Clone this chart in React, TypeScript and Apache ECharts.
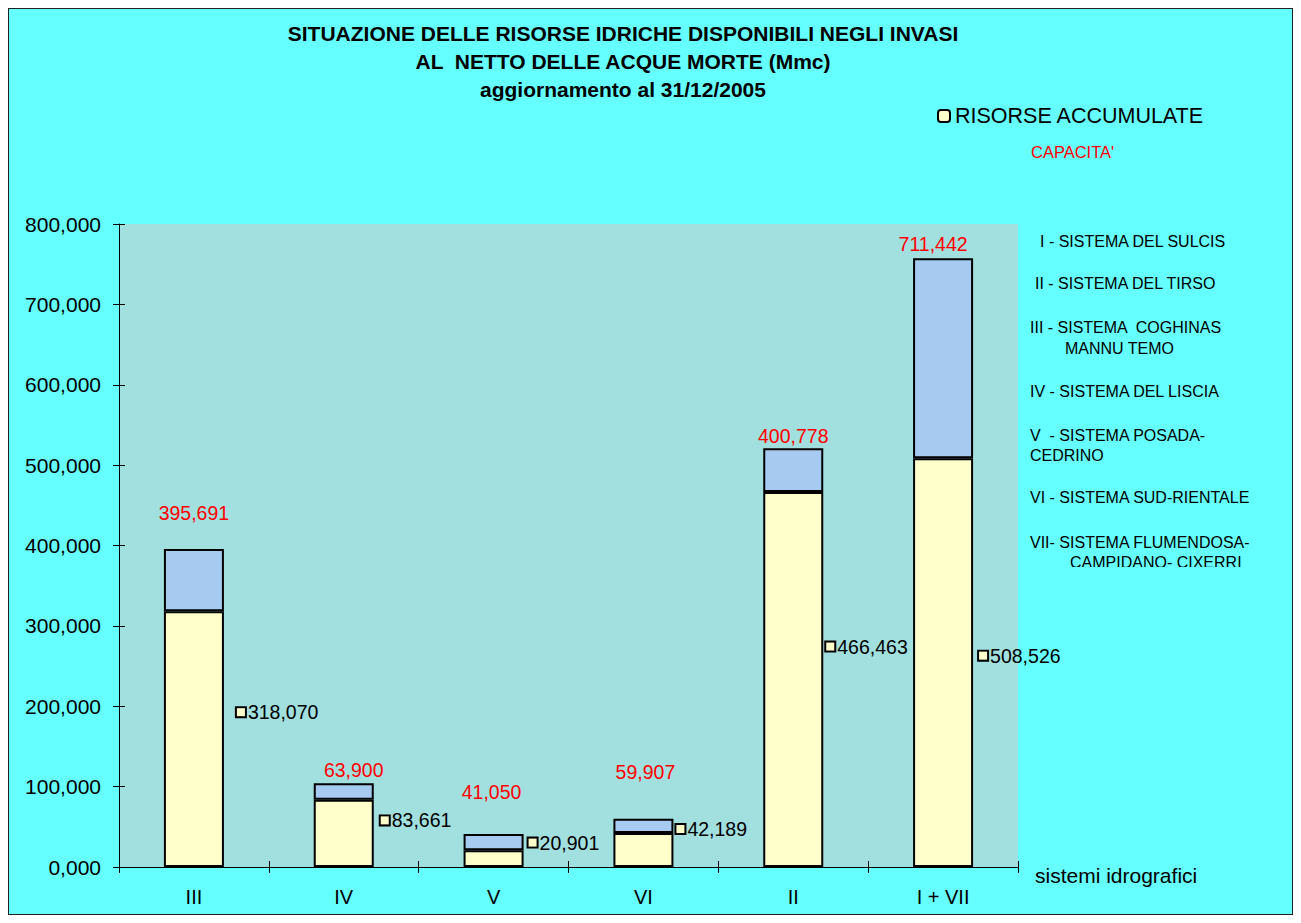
import React, { useEffect, useRef } from "react";
import * as echarts from "echarts";

// ---- data ----
const categories = ["III", "IV", "V", "VI", "II", "I + VII"];
const risorseAccumulate = [318070, 83661, 20901, 42189, 466463, 508526];
// blue stacked segment (bar top minus accumulated resources)
const capacitaResidua = [77621, 20539, 20149, 17718, 54537, 248974];
// red labels printed above the bars
const capacitaLabels = [395691, 63900, 41050, 59907, 400778, 711442];
const yTicks = [0, 100000, 200000, 300000, 400000, 500000, 600000, 700000, 800000];
const sistemiLegenda = [
  "I - SISTEMA DEL SULCIS",
  "II - SISTEMA DEL TIRSO",
  "III - SISTEMA  COGHINAS",
  "MANNU TEMO",
  "IV - SISTEMA DEL LISCIA",
  "V  - SISTEMA POSADA-",
  "CEDRINO",
  "VI - SISTEMA SUD-RIENTALE",
  "VII- SISTEMA FLUMENDOSA-",
  "CAMPIDANO- CIXERRI",
];

const FONT = "Arial, 'Liberation Sans', sans-serif";
const BG = "#66FFFF";

const fmt = (v: number) => {
  const k = Math.floor(v / 1000);
  const r = Math.round(v % 1000);
  return `${k},${String(r).padStart(3, "0")}`;
};

export default function App() {
  const ref = useRef<HTMLDivElement>(null);

  useEffect(() => {
    if (!ref.current) return;
    const chart = echarts.init(ref.current, undefined, { renderer: "svg" });

    const redNudge = [
      [0, -21],
      [10, 2],
      [-2, -27],
      [2, -32],
      [0, 3],
      [-10, 1],
    ];
    const yellowNudge = [
      [8, -27],
      [2, -13],
      [0, -16],
      [-2, -21],
      [-2, -33],
      [1, -7],
    ];
    const listPos = [
      [1031, 232],
      [1026, 274],
      [1021, 318],
      [1056, 339],
      [1021, 382],
      [1021, 426],
      [1021, 446],
      [1021, 488],
      [1021, 533],
      [1061, 553],
    ];

    const option: any = {
      animation: false,
      backgroundColor: BG,
      textStyle: { fontFamily: FONT },
      title: {
        text:
          "SITUAZIONE DELLE RISORSE IDRICHE DISPONIBILI NEGLI INVASI\nAL  NETTO DELLE ACQUE MORTE (Mmc)\naggiornamento al 31/12/2005",
        left: 614,
        textAlign: "center",
        top: 10,
        padding: 0,
        textStyle: {
          fontFamily: FONT,
          fontSize: 21,
          fontWeight: "bold",
          color: "#000",
          lineHeight: 28,
        },
      },
      legend: [
        {
          data: ["RISORSE ACCUMULATE"],
          left: 928,
          top: 96,
          padding: 0,
          itemWidth: 12,
          itemHeight: 12,
          selectedMode: false,
          textStyle: { fontFamily: FONT, fontSize: 21.5, color: "#000" },
        },
        {
          data: [{ name: "CAPACITA'", icon: "none" }],
          left: 1003,
          top: 134,
          padding: 0,
          itemWidth: 14,
          itemHeight: 11,
          selectedMode: false,
          textStyle: { fontFamily: FONT, fontSize: 16.5, color: "#FF0000" },
        },
      ],
      grid: {
        left: 110,
        right: 274,
        top: 215,
        bottom: 47,
        show: true,
        backgroundColor: "#A2DFDF",
        borderWidth: 0,
      },
      xAxis: [
        {
          type: "category",
          data: categories,
          position: "bottom",
          axisLine: { show: true, lineStyle: { color: "#000", width: 1 } },
          axisTick: { show: true, length: 6, lineStyle: { color: "#000" } },
          axisLabel: { fontFamily: FONT, fontSize: 20, color: "#000", margin: 20 },
          name: "sistemi idrografici",
          nameLocation: "end",
          nameGap: 17,
          nameTextStyle: {
            fontFamily: FONT,
            fontSize: 21,
            color: "#000",
            verticalAlign: "top",
            lineHeight: 16,
          },
          splitLine: { show: false },
        },
        {
          type: "category",
          data: categories,
          position: "bottom",
          axisLine: { show: false },
          axisTick: { show: true, inside: true, length: 6, lineStyle: { color: "#000" } },
          axisLabel: { show: false },
          splitLine: { show: false },
        },
      ],
      yAxis: [
        {
          type: "value",
          min: yTicks[0],
          max: yTicks[yTicks.length - 1],
          interval: yTicks[1] - yTicks[0],
          axisLine: { show: true, lineStyle: { color: "#000", width: 1 } },
          axisTick: { show: true, length: 6, lineStyle: { color: "#000" } },
          axisLabel: {
            fontFamily: FONT,
            fontSize: 21,
            color: "#000",
            margin: 18,
            formatter: (v: number) => fmt(v),
          },
          splitLine: { show: false },
        },
        {
          type: "value",
          position: "left",
          min: yTicks[0],
          max: yTicks[yTicks.length - 1],
          interval: yTicks[1] - yTicks[0],
          axisLine: { show: false },
          axisTick: { show: true, inside: true, length: 6, lineStyle: { color: "#000" } },
          axisLabel: { show: false },
          splitLine: { show: false },
        },
      ],
      series: [
        {
          name: "RISORSE ACCUMULATE",
          type: "bar",
          stack: "tot",
          barWidth: 60,
          xAxisIndex: 0,
          yAxisIndex: 0,
          itemStyle: { color: "#FFFFCC", borderColor: "#000", borderWidth: 2 },
          data: risorseAccumulate.map((v, i) => ({
            value: v,
            label: { offset: yellowNudge[i] },
          })),
          label: {
            show: true,
            position: "right",
            distance: 5,
            formatter: (p: any) => `{k| }{v|${fmt(p.value)}}`,
            rich: {
              k: {
                width: 8,
                height: 8,
                backgroundColor: "#FFFFCC",
                borderColor: "#000",
                borderWidth: 2,
              },
              v: {
                fontFamily: FONT,
                fontSize: 19.5,
                color: "#000",
                padding: [0, 0, 0, 3],
              },
            },
          },
        },
        {
          name: "CAPACITA'",
          type: "bar",
          stack: "tot",
          barWidth: 60,
          xAxisIndex: 0,
          yAxisIndex: 0,
          itemStyle: { color: "#A6CAF0", borderColor: "#000", borderWidth: 2 },
          data: capacitaResidua.map((v, i) => ({
            value: v,
            label: { offset: redNudge[i] },
          })),
          label: {
            show: true,
            position: "top",
            distance: 5,
            fontFamily: FONT,
            fontSize: 19.5,
            color: "#FF0000",
            formatter: (p: any) => fmt(capacitaLabels[p.dataIndex]),
          },
        },
      ],
      graphic: [
        ...sistemiLegenda.map((t, i) => ({
          type: "text",
          x: listPos[i][0],
          y: listPos[i][1],
          style: {
            text: t,
            fontFamily: FONT,
            fontSize: 16,
            fill: "#000",
            textVerticalAlign: "middle",
            verticalAlign: "middle",
          },
        })),
        {
          type: "rect",
          shape: { x: 1013, y: 558, width: 270, height: 14 },
          style: { fill: BG },
        },
      ],
    };

    chart.setOption(option);
    return () => chart.dispose();
  }, []);

  return (
    <div
      style={{
        width: 1285,
        height: 907,
        border: "1px solid #222",
        boxSizing: "border-box",
      }}
    >
      <div ref={ref} style={{ width: 1283, height: 905 }} />
    </div>
  );
}
